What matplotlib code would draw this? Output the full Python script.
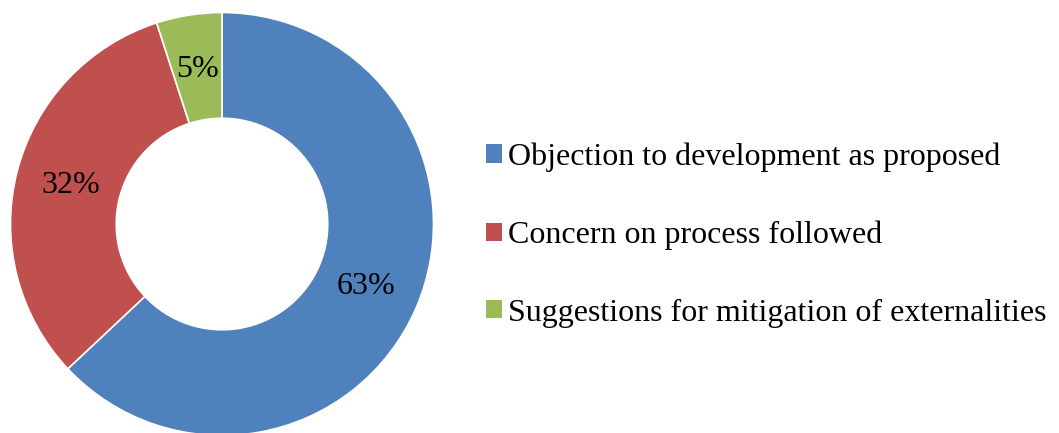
import matplotlib
matplotlib.use("Agg")
import matplotlib.pyplot as plt

categories = [
    "Objection to development as proposed",
    "Concern on process followed",
    "Suggestions for mitigation of externalities",
]
shares = [63, 32, 5]
colors = ["#4F81BD", "#C0504D", "#9BBB59"]

plt.rcParams["font.family"] = ["Liberation Serif", "DejaVu Serif"]

W, H, DPI = 1059, 433, 100
fig = plt.figure(figsize=(W / DPI, H / DPI), dpi=DPI)

# donut axes: square, radius ~211 px, centred at (222, 209) px from bottom-left
r_px = 211.5
cx, cy = 222, 209
ax = fig.add_axes([(cx - r_px) / W, (cy - r_px) / H, 2 * r_px / W, 2 * r_px / H])
ax.set_axis_off()

wedges, texts, autotexts = ax.pie(
    shares,
    colors=colors,
    startangle=90,
    counterclock=False,
    radius=1.0,
    autopct=lambda p: f"{p:.0f}%",
    pctdistance=0.74,
    wedgeprops=dict(width=0.5, edgecolor="white", linewidth=1.2),
    textprops=dict(fontsize=23, color="black"),
)
for w in wedges:
    w.set_clip_on(False)
ax.set_xlim(-1, 1)
ax.set_ylim(-1, 1)
ax.set_aspect("equal")

leg = fig.legend(
    wedges,
    categories,
    loc="center left",
    bbox_to_anchor=(486 / W, (H - 235) / H),
    frameon=False,
    fontsize=23,
    handlelength=0.5,
    handleheight=0.5,
    handletextpad=0.2,
    labelspacing=1.52,
    borderaxespad=0,
    borderpad=0,
)
for h in leg.legend_handles:
    h.set_edgecolor("none")

fig.savefig("out.png", dpi=DPI)
